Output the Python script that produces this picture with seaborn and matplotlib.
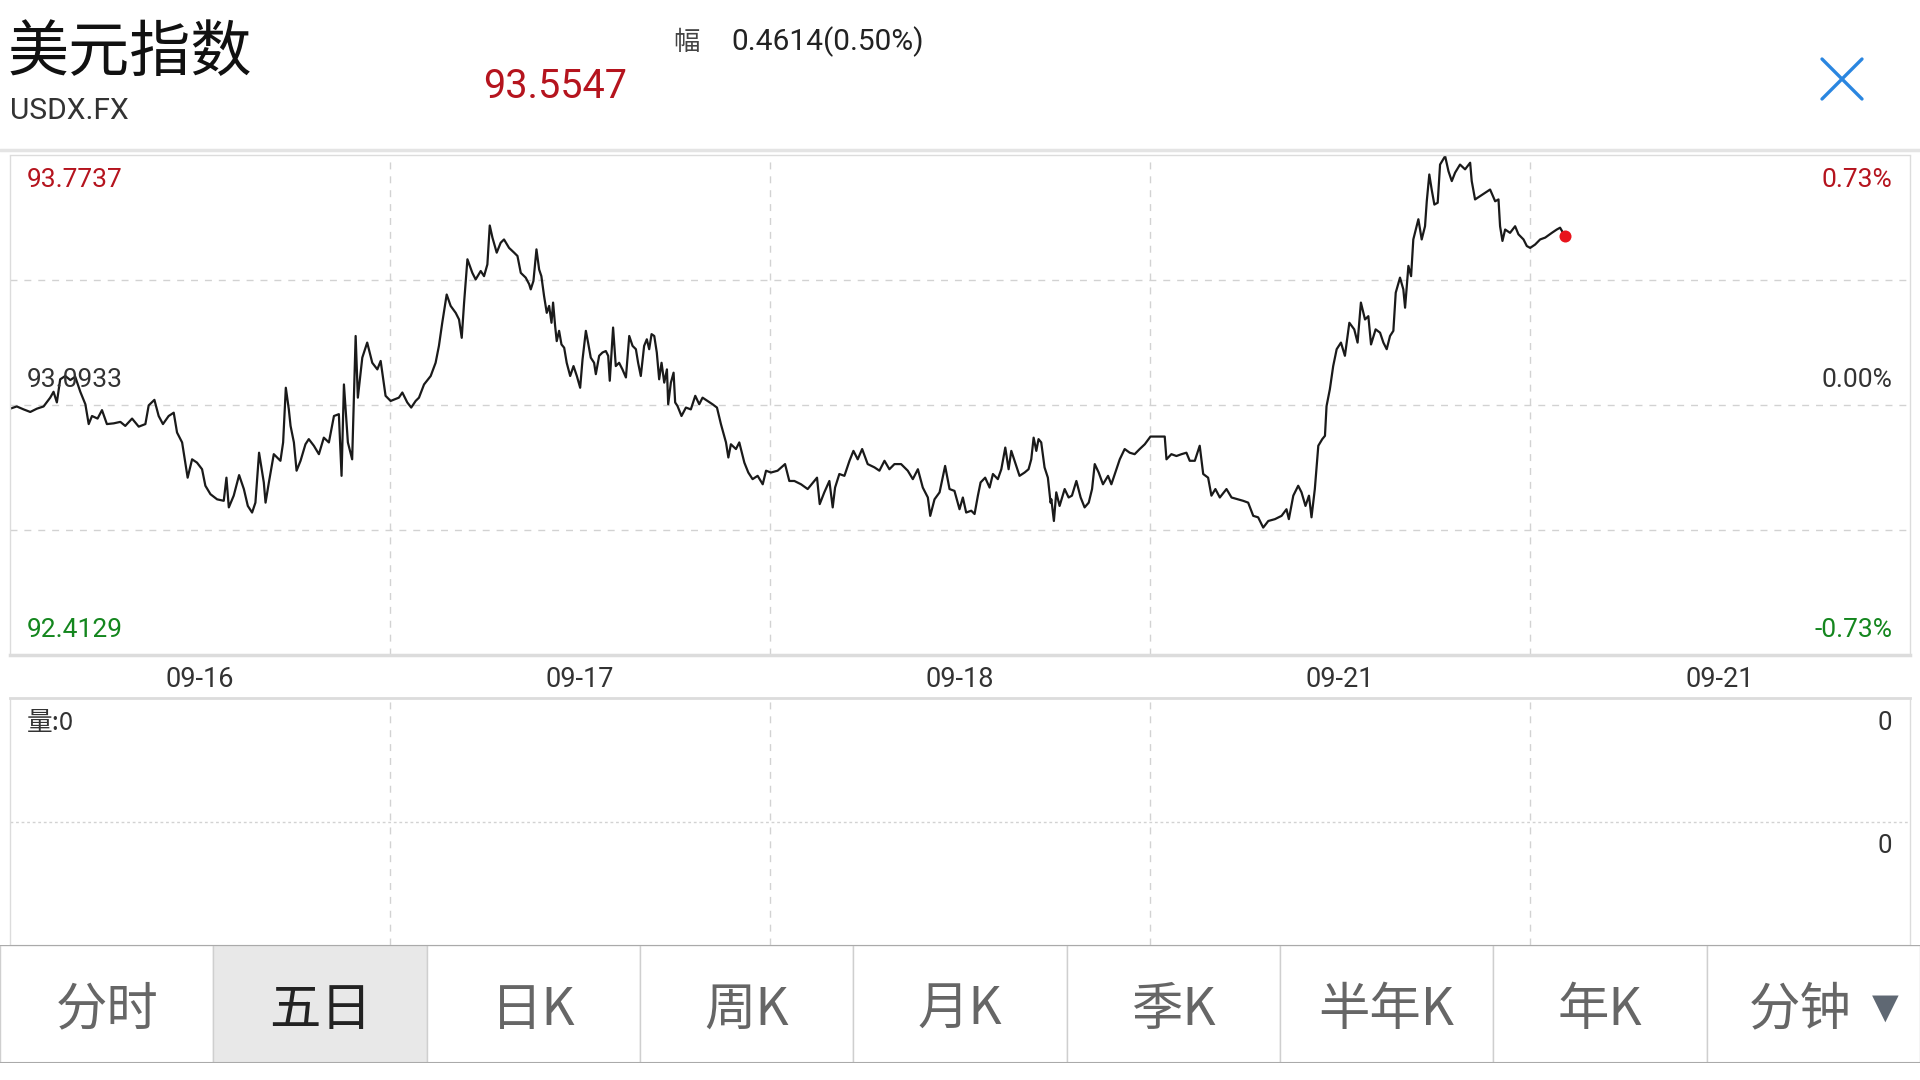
import matplotlib
matplotlib.use("Agg")
import matplotlib.pyplot as plt
import seaborn as sns
import pandas as pd
from matplotlib.patches import Rectangle
from matplotlib.lines import Line2D

# ---- data ----
name_cn = "美元指数"
symbol = "USDX.FX"
last_price = 93.5547
change = 0.4614
change_pct = 0.50
prev_close = 93.0933
y_high = 93.7737
y_low = 92.4129
pct_high = "0.73%"
pct_mid = "0.00%"
pct_low = "-0.73%"

day_labels = ["09-16", "09-17", "09-18", "09-21", "09-21"]
tab_labels = ["分时", "五日", "日K", "周K", "月K", "季K", "半年K", "年K", "分钟"]
selected_tab = 1
volume_label = "量:0"

# hours since start of the 5-day window (24 h per column)
seg1_t = [0.01, 0.43, 0.86, 1.28, 1.70, 2.12, 2.54, 2.75, 2.96, 3.17,
          3.49, 3.81, 4.12, 4.44, 4.76, 4.97, 5.18, 5.53, 5.81, 6.12,
          6.55, 6.97, 7.28, 7.71, 8.13, 8.55, 8.76, 9.12, 9.39, 9.66,
          10.02, 10.34, 10.55, 10.87, 11.22, 11.50, 11.81, 12.13, 12.34, 12.66,
          13.08, 13.50, 13.67, 13.82, 14.13, 14.47, 14.77, 15.02, 15.29, 15.50,
          15.73, 16.03, 16.14, 16.35, 16.66, 17.08, 17.25, 17.42, 17.61, 17.72,
          17.93, 18.10, 18.35, 18.66, 18.87, 19.19, 19.51, 19.82, 20.14, 20.46,
          20.77, 20.94, 21.09, 21.34, 21.61, 21.83, 21.97, 22.25, 22.56, 22.88,
          23.20, 23.41, 23.72, 24.04, 24.56, 24.78, 25.09, 25.34, 25.62, 25.83,
          26.15, 26.57, 26.88, 27.09, 27.30, 27.58, 27.83, 28.15, 28.36, 28.53,
          28.68, 28.89, 29.20, 29.41, 29.73, 29.94, 30.15, 30.30, 30.47, 30.74,
          30.99, 31.20, 31.52, 31.84, 32.05, 32.26, 32.57, 32.79]
seg1_p = [93.084, 93.090, 93.082, 93.075, 93.084, 93.090, 93.114, 93.130, 93.101, 93.164,
          93.173, 93.162, 93.171, 93.130, 93.096, 93.042, 93.064, 93.057, 93.080, 93.042,
          93.044, 93.048, 93.037, 93.057, 93.035, 93.042, 93.093, 93.108, 93.064, 93.042,
          93.064, 93.073, 93.019, 92.992, 92.896, 92.946, 92.937, 92.919, 92.874, 92.851,
          92.837, 92.833, 92.896, 92.815, 92.847, 92.903, 92.865, 92.819, 92.801, 92.828,
          92.964, 92.883, 92.828, 92.883, 92.960, 92.942, 92.992, 93.141, 93.082, 93.037,
          92.992, 92.915, 92.942, 92.987, 93.001, 92.983, 92.960, 93.005, 92.992, 93.064,
          93.069, 92.901, 93.150, 92.992, 92.946, 93.282, 93.114, 93.223, 93.264, 93.209,
          93.191, 93.214, 93.119, 93.105, 93.114, 93.128, 93.101, 93.087, 93.105, 93.114,
          93.150, 93.173, 93.209, 93.255, 93.318, 93.395, 93.364, 93.345, 93.327, 93.277,
          93.373, 93.491, 93.454, 93.436, 93.459, 93.445, 93.477, 93.583, 93.550, 93.509,
          93.536, 93.545, 93.522, 93.509, 93.500, 93.454, 93.441, 93.423]

seg2_t = [32.89, 33.06, 33.25, 33.42, 33.56, 33.73, 33.90, 34.05, 34.20, 34.30,
          34.43, 34.53, 34.68, 34.83, 35.00, 35.16, 35.38, 35.59, 35.80, 36.01,
          36.16, 36.37, 36.51, 36.68, 36.89, 37.00, 37.21, 37.42, 37.63, 37.78,
          37.88, 38.09, 38.26, 38.47, 38.68, 38.90, 39.11, 39.32, 39.53, 39.67,
          39.84, 40.05, 40.22, 40.37, 40.52, 40.69, 40.85, 41.00, 41.15, 41.32,
          41.49, 41.57, 41.74, 41.91, 42.01, 42.16, 42.41, 42.69, 43.00, 43.28,
          43.53, 43.74, 44.06, 44.37, 44.65, 44.90, 45.22, 45.37, 45.53, 45.85,
          46.06, 46.38, 46.63, 46.90, 47.22, 47.54, 47.75, 48.06, 48.48, 48.95,
          49.22, 49.54, 49.96, 50.38, 50.80, 50.97, 51.14, 51.43, 51.75, 51.96,
          52.11, 52.38, 52.70, 53.02, 53.27, 53.54, 53.82, 54.17, 54.60, 54.91,
          55.23, 55.54, 55.86, 56.28, 56.70, 57.02, 57.34, 57.65, 57.97, 58.12,
          58.39, 58.71, 59.06, 59.34, 59.65, 59.97, 60.18, 60.39, 60.71, 60.92,
          61.13, 61.30, 61.59, 61.87, 62.08, 62.39, 62.61, 62.86, 63.07, 63.24,
          63.55, 63.76, 64.08, 64.33, 64.50, 64.65, 64.82, 64.96, 65.13, 65.34,
          65.55, 65.72]
seg2_p = [93.409, 93.432, 93.518, 93.463, 93.445, 93.391, 93.345, 93.364, 93.318, 93.373,
          93.309, 93.268, 93.296, 93.259, 93.250, 93.209, 93.173, 93.200, 93.173, 93.141,
          93.218, 93.296, 93.264, 93.223, 93.209, 93.178, 93.228, 93.237, 93.241, 93.228,
          93.160, 93.305, 93.200, 93.209, 93.191, 93.169, 93.282, 93.255, 93.246, 93.209,
          93.173, 93.255, 93.273, 93.246, 93.287, 93.282, 93.237, 93.164, 93.209, 93.155,
          93.191, 93.096, 93.155, 93.182, 93.101, 93.091, 93.064, 93.087, 93.082, 93.119,
          93.096, 93.114, 93.105, 93.096, 93.087, 93.042, 92.992, 92.951, 92.987, 92.974,
          92.992, 92.937, 92.910, 92.892, 92.901, 92.878, 92.915, 92.910, 92.915, 92.933,
          92.887, 92.887, 92.878, 92.865, 92.887, 92.896, 92.824, 92.856, 92.887, 92.815,
          92.869, 92.906, 92.901, 92.942, 92.969, 92.946, 92.974, 92.933, 92.924, 92.915,
          92.942, 92.919, 92.933, 92.933, 92.915, 92.892, 92.919, 92.869, 92.842, 92.792,
          92.837, 92.856, 92.928, 92.865, 92.860, 92.810, 92.842, 92.801, 92.806, 92.797,
          92.847, 92.883, 92.896, 92.869, 92.906, 92.892, 92.919, 92.978, 92.919, 92.969,
          92.928, 92.901, 92.910, 92.919, 92.946, 93.005, 92.969, 93.001, 92.992, 92.924,
          92.896, 92.828]

seg3_t = [65.77, 65.93, 66.08, 66.29, 66.61, 66.86, 67.07, 67.35, 67.62, 67.87,
          68.13, 68.34, 68.51, 68.76, 69.03, 69.35, 69.56, 69.88, 70.09, 70.40,
          70.72, 71.03, 71.35, 71.67, 72.03, 72.51, 72.93, 73.04, 73.35, 73.67,
          73.99, 74.30, 74.51, 74.83, 75.14, 75.36, 75.67, 75.88, 76.13, 76.41,
          76.83, 77.15, 77.57, 77.88, 78.20, 78.52, 78.83, 79.15, 79.47, 79.89,
          80.31, 80.62, 80.77, 81.05, 81.36, 81.57, 81.82, 82.04, 82.20, 82.41,
          82.63, 82.88, 83.05, 83.15, 83.36, 83.57, 83.79, 84.06, 84.31, 84.59,
          84.90, 85.11, 85.32, 85.58, 85.79, 85.96, 86.25, 86.53, 86.74, 86.95,
          87.16, 87.37, 87.52, 87.79, 88.00, 88.11, 88.32, 88.49, 88.63, 88.95,
          89.16, 89.37, 89.48, 89.64, 89.79, 89.96, 90.17, 90.32, 90.64, 90.85,
          91.06, 91.27, 91.58, 91.90, 92.22, 92.32, 92.53, 92.85, 93.16, 93.48,
          93.80, 94.01, 94.11, 94.26, 94.43, 94.74, 95.06, 95.27, 95.59, 95.80,
          96.01, 96.32, 96.64, 96.96, 97.38, 97.69, 97.90, 98.20]
seg3_p = [92.837, 92.778, 92.856, 92.819, 92.865, 92.842, 92.847, 92.887, 92.842, 92.815,
          92.828, 92.865, 92.933, 92.910, 92.878, 92.901, 92.878, 92.919, 92.946, 92.974,
          92.964, 92.960, 92.974, 92.987, 93.008, 93.008, 93.008, 92.946, 92.960, 92.955,
          92.960, 92.964, 92.942, 92.942, 92.983, 92.906, 92.896, 92.847, 92.865, 92.842,
          92.865, 92.842, 92.837, 92.833, 92.828, 92.792, 92.788, 92.760, 92.778, 92.783,
          92.792, 92.810, 92.783, 92.847, 92.874, 92.856, 92.819, 92.847, 92.788, 92.865,
          92.983, 93.001, 93.010, 93.091, 93.137, 93.200, 93.246, 93.264, 93.228, 93.318,
          93.300, 93.264, 93.373, 93.327, 93.336, 93.259, 93.300, 93.291, 93.264, 93.246,
          93.282, 93.296, 93.400, 93.441, 93.409, 93.359, 93.473, 93.445, 93.545, 93.600,
          93.545, 93.581, 93.649, 93.722, 93.681, 93.640, 93.645, 93.749, 93.772, 93.731,
          93.704, 93.727, 93.749, 93.736, 93.754, 93.704, 93.654, 93.663, 93.672, 93.681,
          93.649, 93.654, 93.581, 93.541, 93.572, 93.563, 93.581, 93.559, 93.545, 93.527,
          93.522, 93.531, 93.545, 93.550, 93.563, 93.572, 93.577, 93.5547]

df = pd.DataFrame({"hour": seg1_t + seg2_t + seg3_t,
                   "price": seg1_p + seg2_p + seg3_p})

RED = "#b5141e"
GREEN = "#14861e"
GRID = "#d2d2d2"
EDGE = "#dcdcdc"

sns.set_theme(style="white")
plt.rcParams["font.family"] = ["Roboto", "Noto Sans CJK SC", "DejaVu Sans"]
CJK = ["Noto Sans CJK SC", "DejaVu Sans"]

W, H = 1920, 1080
fig = plt.figure(figsize=(19.2, 10.8), dpi=100)
fig.patch.set_facecolor("white")


def fx(px):
    return px / W


def fy(py):
    return 1 - py / H


# ---- header ----
fig.text(fx(8), fy(54), name_cn, fontsize=44, family=CJK, color="#111111",
         ha="left", va="center")
fig.text(fx(10), fy(111), symbol, fontsize=21.5, color="#333333", ha="left", va="center")
fig.text(fx(555), fy(86), f"{last_price:.4f}", fontsize=28.5, color=RED,
         ha="center", va="center")
fig.text(fx(686), fy(43), "幅", fontsize=19, family=CJK, color="#444444",
         ha="center", va="center")
fig.text(fx(731), fy(42), f"{change:.4f}({change_pct:.2f}%)", fontsize=21.5,
         color="#222222", ha="left", va="center")
# close "X"
for a, b in [((1822, 59), (1862, 99)), ((1822, 99), (1862, 59))]:
    fig.add_artist(Line2D([fx(a[0]), fx(b[0])], [fy(a[1]), fy(b[1])],
                          color="#2a86e0", lw=2.4, solid_capstyle="round"))
fig.add_artist(Line2D([0, 1], [fy(150), fy(150)], color="#e4e4e4", lw=2.5))

# ---- price chart ----
ax = fig.add_axes([fx(10), fy(655), fx(1900), (655 - 155.5) / H])
sns.lineplot(data=df, x="hour", y="price", ax=ax, color="#1a1a1a", linewidth=1.6,
             estimator=None, errorbar=None, sort=False)
ax.scatter([df["hour"].iloc[-1]], [df["price"].iloc[-1]], s=75, color="#e8141c",
           zorder=5, linewidths=0)
ax.set_xlim(0, 24 * len(day_labels))
ax.set_ylim(y_low, y_high)
step = (y_high - y_low) / 4
ax.set_yticks([y_low + step * k for k in (1, 2, 3)])
ax.set_xticks([24 * i + 12 for i in range(len(day_labels))])
ax.set_xticks([24 * i for i in range(1, len(day_labels))], minor=True)
ax.set_xticklabels(day_labels)
ax.set_yticklabels([])
ax.tick_params(axis="both", which="both", length=0)
ax.tick_params(axis="x", labelsize=19.5, labelcolor="#333333", pad=8)
ax.grid(False)
ax.grid(which="minor", axis="x", color=GRID, linestyle=(0, (5, 5)), linewidth=1)
ax.grid(which="major", axis="y", color=GRID, linestyle=(0, (5, 5)), linewidth=1)
ax.set_xlabel("")
ax.set_ylabel("")
for side, sp in ax.spines.items():
    sp.set_color(EDGE)
    sp.set_linewidth(1)
ax.spines["bottom"].set_linewidth(2.5)

LS = 19
ax.text(0.009, 0.950, f"{y_high:.4f}", transform=ax.transAxes, fontsize=LS,
        color=RED, ha="left", va="center")
ax.text(0.009, 0.551, f"{prev_close:.4f}", transform=ax.transAxes, fontsize=LS,
        color="#333333", ha="left", va="center")
ax.text(0.009, 0.051, f"{y_low:.4f}", transform=ax.transAxes, fontsize=LS,
        color=GREEN, ha="left", va="center")
ax.text(0.9906, 0.950, pct_high, transform=ax.transAxes, fontsize=LS,
        color=RED, ha="right", va="center")
ax.text(0.9906, 0.551, pct_mid, transform=ax.transAxes, fontsize=LS,
        color="#333333", ha="right", va="center")
ax.text(0.9906, 0.051, pct_low, transform=ax.transAxes, fontsize=LS,
        color=GREEN, ha="right", va="center")

# ---- volume panel ----
vax = fig.add_axes([fx(10), fy(945), fx(1900), (945 - 698) / H])
vax.set_xlim(0, 24 * len(day_labels))
vax.set_ylim(0, 2)
vax.set_xticks([24 * i for i in range(1, len(day_labels))])
vax.set_yticks([1])
vax.set_xticklabels([])
vax.set_yticklabels([])
vax.tick_params(length=0)
vax.grid(axis="x", color=GRID, linestyle=(0, (5, 5)), linewidth=1)
vax.grid(axis="y", color=GRID, linestyle=(0, (2, 2)), linewidth=1)
for side, sp in vax.spines.items():
    sp.set_color(EDGE)
    sp.set_linewidth(1)
vax.spines["top"].set_linewidth(2)
vax.text(0.009, 0.900, volume_label, transform=vax.transAxes, fontsize=18.5,
         family=CJK, color="#333333", ha="left", va="center")
vax.text(0.9906, 0.900, "0", transform=vax.transAxes, fontsize=18.5,
         color="#333333", ha="right", va="center")
vax.text(0.9906, 0.400, "0", transform=vax.transAxes, fontsize=18.5,
         color="#333333", ha="right", va="center")

# ---- period tabs ----
tax = fig.add_axes([0, fy(1063), 1, (1063 - 945) / H])
tax.set_xlim(0, len(tab_labels))
tax.set_ylim(0, 1)
tax.axis("off")
for i, lab in enumerate(tab_labels):
    face = "#e8e8e8" if i == selected_tab else "white"
    tax.add_patch(Rectangle((i, 0), 1, 1, facecolor=face, edgecolor="#cfcfcf",
                            linewidth=1))
    col = "#222222" if i == selected_tab else "#666666"
    if i == len(tab_labels) - 1:
        tax.text(i + 0.44, 0.45, lab, fontsize=37, family=CJK, color=col,
                 ha="center", va="center")
        tax.text(i + 0.835, 0.47, "▼", fontsize=25, family=["DejaVu Sans"],
                 color="#5f6873", ha="center", va="center")
    else:
        tax.text(i + 0.5, 0.45, lab, fontsize=37, family=CJK, color=col,
                 ha="center", va="center")
tax.add_artist(Line2D([0, len(tab_labels)], [1, 1], color="#aaaaaa", lw=1.5))
tax.add_artist(Line2D([0, len(tab_labels)], [0, 0], color="#aaaaaa", lw=1.5))

fig.savefig("out.png", dpi=100, facecolor="white")
